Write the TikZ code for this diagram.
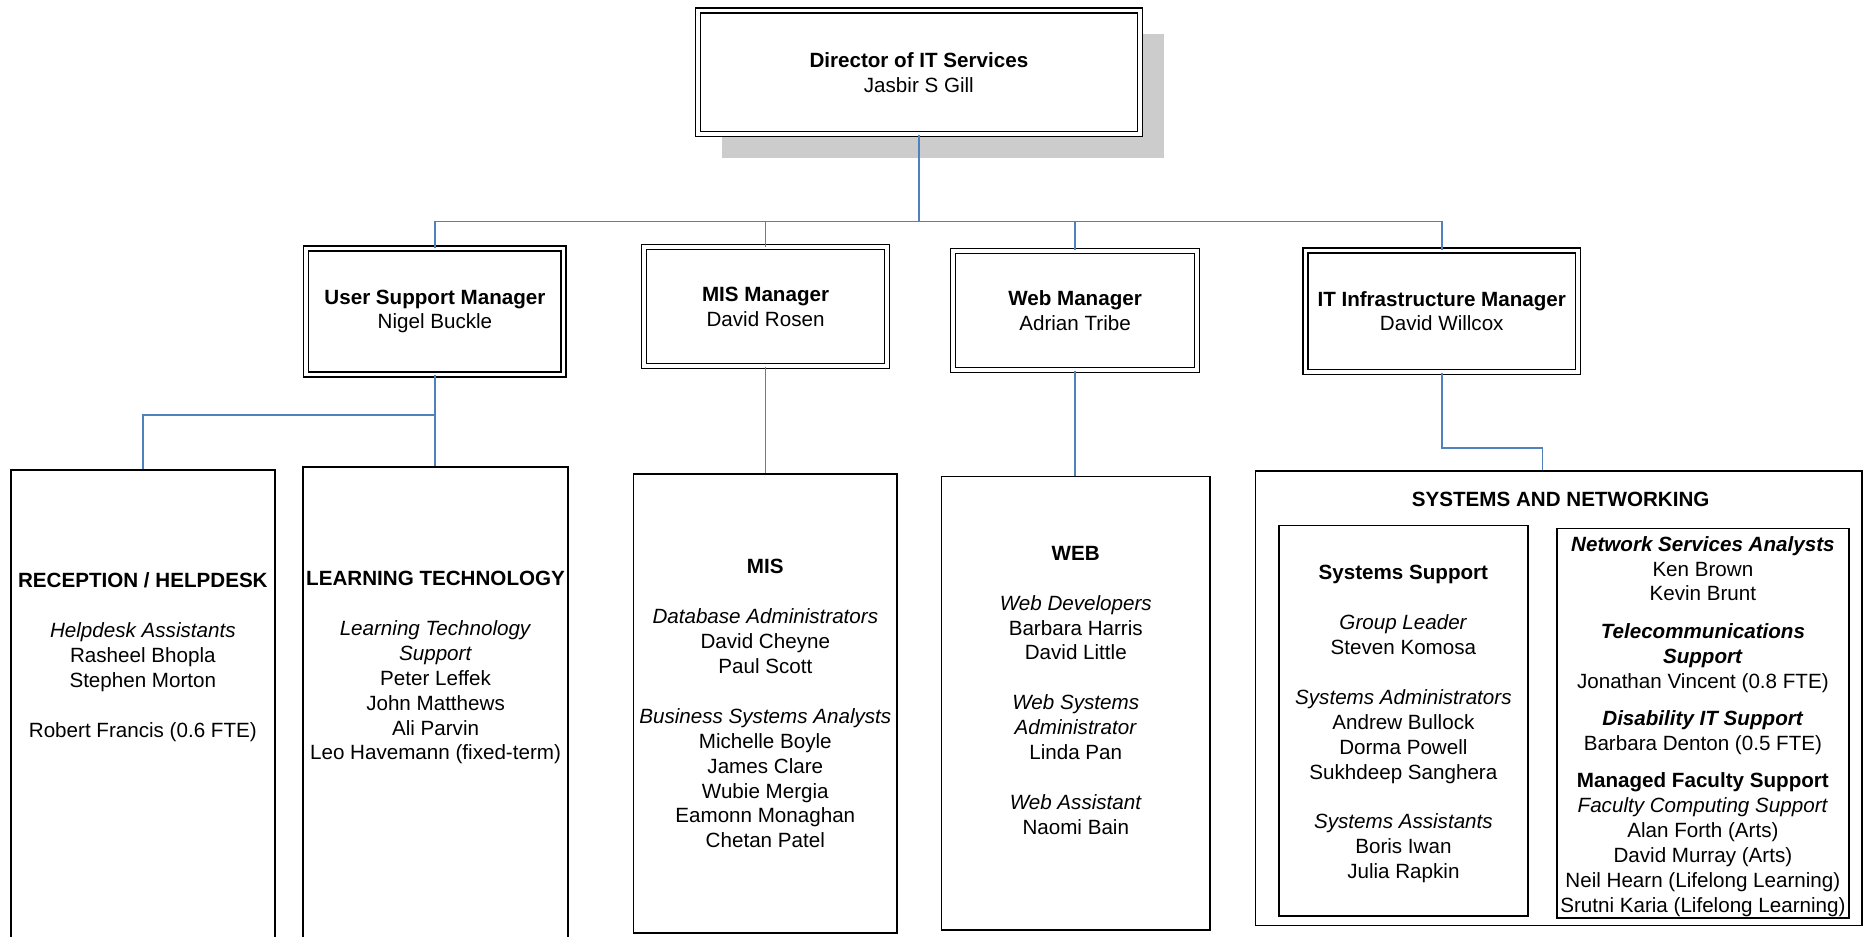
\documentclass[tikz,border=0pt]{standalone}
\usepackage{fontspec}
\setmainfont{Liberation Sans}
\usetikzlibrary{shadows}
\definecolor{linkblue}{RGB}{79,129,189}
\newcommand{\ux}{0.02438cm}
\tikzset{
    every node/.style={font=\fontsize{12}{14.5}\selectfont, align=center},
    boxsize/.style 2 args={minimum width=#1*\ux, minimum height=#2*\ux},
    headbox/.style={draw, line width=0.8pt, double, double distance=2.1pt, fill=white, inner sep=0pt},
    teambox/.style={draw, line width=0.9pt, fill=white, inner sep=0pt},
    teamtext/.style={anchor=north, inner sep=0pt},
    link/.style={draw=linkblue, line width=1pt}
}

\begin{document}
\begin{tikzpicture}[x=\ux, y=-\ux]
        \useasboundingbox (0,0) rectangle (1568,786);

        % Director and managers
        \node[headbox, boxsize={371.2}{103.7}, drop shadow={shadow xshift=14pt, shadow yshift=-13.9pt, fill=gray!40, opacity=1}] (dir) at (771.3,60.75) {\textbf{Director of IT Services}\\Jasbir S Gill};
        \node[headbox, boxsize={216}{105.9}] (usm) at (365.1,261.4) {\textbf{User Support Manager}\\Nigel Buckle};
        \node[headbox, boxsize={204.1}{99.8}] (misb) at (642.6,257.4) {\textbf{MIS Manager}\\David Rosen};
        \node[headbox, boxsize={204.5}{100.1}] (webb) at (902.4,260.7) {\textbf{Web Manager}\\Adrian Tribe};
        \node[headbox, boxsize={228.6}{101.8}] (itb) at (1210.2,261.2) {\textbf{IT Infrastructure Manager}\\David Willcox};

        % Teams
        \node[teambox, boxsize={221.7}{405.5}] (rec) at (119.9,597.25) {};
        \node[teambox, boxsize={222.1}{408}] (lt) at (365.6,596) {};
        \node[teambox, boxsize={221.3}{385}] (mist) at (642.4,590.5) {};
        \node[teambox, boxsize={225.4}{380.6}] (webt) at (903,590.4) {};
        \node[teambox, boxsize={509}{381.6}] (sn) at (1308.5,586.2) {};
        \node[teambox, boxsize={209}{328}] (sys) at (1178,605) {};
        \node[teambox, boxsize={245.3}{327}] (net) at (1429.4,607) {};

        \node[teamtext] (rectext) at (119.9,480.7) {\textbf{RECEPTION / HELPDESK}\\[\baselineskip]
            \textit{Helpdesk Assistants}\\Rasheel Bhopla\\Stephen Morton\\[\baselineskip]
            Robert Francis (0.6 FTE)};
        \node[teamtext] (lttext) at (365.6,479.2) {\textbf{LEARNING TECHNOLOGY}\\[\baselineskip]
            \textit{Learning Technology}\\\textit{Support}\\Peter Leffek\\John Matthews\\Ali Parvin\\Leo Havemann (fixed-term)};
        \node[teamtext] (mistext) at (642.4,469.4) {\textbf{MIS}\\[\baselineskip]
            \textit{Database Administrators}\\David Cheyne\\Paul Scott\\[\baselineskip]
            \textit{Business Systems Analysts}\\Michelle Boyle\\James Clare\\Wubie Mergia\\Eamonn Monaghan\\Chetan Patel};
        \node[teamtext] (webtext) at (903,458.2) {\textbf{WEB}\\[\baselineskip]
            \textit{Web Developers}\\Barbara Harris\\David Little\\[\baselineskip]
            \textit{Web Systems}\\\textit{Administrator}\\Linda Pan\\[\baselineskip]
            \textit{Web Assistant}\\Naomi Bain};
        \node[teamtext] (sntext) at (1310,412.9) {\textbf{SYSTEMS AND NETWORKING}};
        \node[teamtext] (systext) at (1178,474.4) {\textbf{Systems Support}\\[\baselineskip]
            \textit{Group Leader}\\Steven Komosa\\[\baselineskip]
            \textit{Systems Administrators}\\Andrew Bullock\\Dorma Powell\\Sukhdeep Sanghera\\[\baselineskip]
            \textit{Systems Assistants}\\Boris Iwan\\Julia Rapkin};
        \node[teamtext] (nettext) at (1429.4,449.8) {\textbf{\textit{Network Services Analysts}}\\Ken Brown\\Kevin Brunt\\[0.5\baselineskip]
            \textbf{\textit{Telecommunications}}\\\textbf{\textit{Support}}\\Jonathan Vincent (0.8 FTE)\\[0.5\baselineskip]
            \textbf{\textit{Disability IT Support}}\\Barbara Denton (0.5 FTE)\\[0.5\baselineskip]
            \textbf{Managed Faculty Support}\\\textit{Faculty Computing Support}\\Alan Forth (Arts)\\David Murray (Arts)\\Neil Hearn (Lifelong Learning)\\Srutni Karia (Lifelong Learning)};

        % Connectors
        \coordinate (topbar) at (0,186);
        \coordinate (usmbar) at (0,348.4);
        \coordinate (itbar) at (0,375.8);
        \draw[link] (dir.south) -- (dir.south |- topbar) -| (usm.north);
        \draw[link] (dir.south) -- (dir.south |- topbar) -| (misb.north);
        \draw[link] (dir.south) -- (dir.south |- topbar) -| (webb.north);
        \draw[link] (dir.south) -- (dir.south |- topbar) -| (itb.north);
        \draw[link] (usm.south) -- (usm.south |- usmbar) -| (rec.north);
        \draw[link] (usm.south) -- (usm.south |- lt.north);
        \draw[link] (misb.south) -- (misb.south |- mist.north);
        \draw[link] (webb.south) -- (webb.south |- webt.north);
        \draw[link] (itb.south) -- (itb.south |- itbar) -| ([xshift=-9.5pt]sn.north);
\end{tikzpicture}
\end{document}
